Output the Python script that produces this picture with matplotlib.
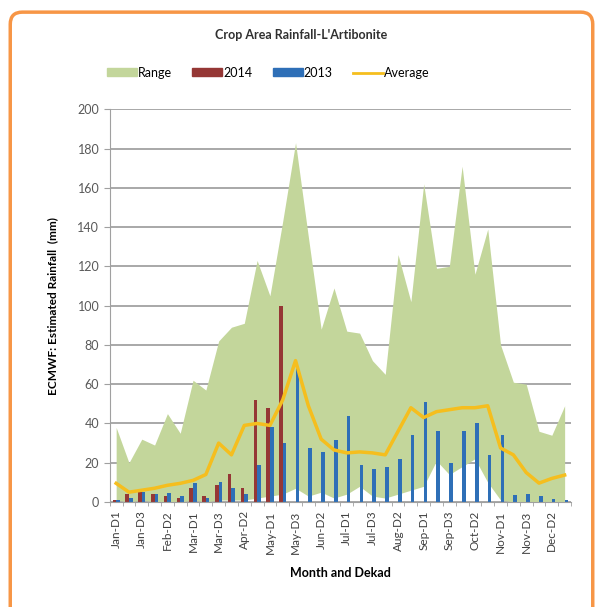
import matplotlib.pyplot as plt
import numpy as np
from matplotlib.patches import FancyBboxPatch, Patch
from matplotlib.lines import Line2D

plt.rcParams['font.family'] = ['Lato', 'DejaVu Sans']

months = ['Jan', 'Feb', 'Mar', 'Apr', 'May', 'Jun', 'Jul', 'Aug', 'Sep', 'Oct', 'Nov', 'Dec']
dekads = [m + '-D' + str(d) for m in months for d in (1, 2, 3)]

range_max = [38, 20, 32, 29, 45, 35, 62, 57, 82, 89, 91, 123, 105, 143, 183, 135, 88, 109,
             87, 86, 72, 65, 126, 102, 162, 119, 120, 171, 116, 139, 80, 61, 60, 36, 34, 49]
range_min = [1, 0, 1, 0, 0, 0, 1, 0, 1, 1, 1, 2, 3, 4, 7, 3, 5, 2,
             4, 8, 3, 2, 4, 6, 8, 21, 14, 18, 22, 10, 1, 0, 0, 0, 0, 0]
rain_2014 = [1, 4, 5, 4, 3, 2, 7, 3, 8.5, 14, 7, 52, 48, 100, 0, 0, 0, 0,
             0, 0, 0, 0, 0, 0, 0, 0, 0, 0, 0, 0, 0, 0, 0, 0, 0, 0]
rain_2013 = [1, 2, 5, 4, 4.5, 3, 9.5, 2, 10, 7, 4, 19, 38, 30, 68, 27.5, 25.5, 31.5,
             44, 19, 17, 18, 22, 34, 51, 36, 20, 36, 40, 24, 34, 3.5, 4, 3, 1.5, 1]
average = [9.5, 5, 6, 7, 8.5, 9.5, 11, 14, 30, 24, 39, 40, 39, 52, 72, 49, 32, 26.5,
           25, 25.5, 25, 24, 36, 48, 43, 46, 47, 48, 48, 49, 27.5, 24, 15, 9.6, 12, 13.7]

x = np.arange(len(dekads))

fig = plt.figure(figsize=(6.03, 6.07), dpi=100)
fig.patches.append(FancyBboxPatch((0.017, -0.05), 0.966, 1.03,
                                  boxstyle='round,pad=0,rounding_size=0.02',
                                  transform=fig.transFigure, facecolor='white',
                                  edgecolor='#F79646', linewidth=2.5, zorder=-1))

ax = fig.add_axes([0.182, 0.173, 0.765, 0.647])
ax.fill_between(x, range_min, range_max, color='#C3D69B', linewidth=0, zorder=1)
w = 0.28
ax.bar(x - w / 2, rain_2014, width=w, color='#953735', zorder=2)
ax.bar(x + w / 2, rain_2013, width=w, color='#2E6FB7', zorder=2)
ax.plot(x, average, color='#F5BE1E', linewidth=2.5, zorder=3)

ax.set_xlim(-0.5, len(dekads) - 0.5)
ax.set_ylim(0, 200)
ax.set_yticks(range(0, 201, 20))
ax.yaxis.grid(True, color='#9A9A9A', linewidth=1.2, zorder=0)
ax.set_axisbelow(True)

ax.set_xticks(x[::2])
ax.set_xticklabels(dekads[::2], rotation=90, fontsize=8.5, color='#404040')
ax.set_xticks(np.arange(-0.5, len(dekads), 1), minor=True)
ax.tick_params(axis='x', which='major', length=0, pad=6)
ax.tick_params(axis='x', which='minor', length=3, color='#A0A0A0')
ax.tick_params(axis='y', length=4, color='#A0A0A0', labelsize=9, labelcolor='#595959')

for s in ['top', 'right']:
    ax.spines[s].set_visible(False)
ax.spines['left'].set_color('#A0A0A0')
ax.spines['bottom'].set_color('#A0A0A0')

ax.set_ylabel('ECMWF: Estimated Rainfall  (mm)', fontsize=8.5, fontweight='bold', labelpad=14)
ax.set_xlabel('Month and Dekad', fontsize=9, fontweight='bold', labelpad=10)

fig.text(0.5, 0.943, "Crop Area Rainfall-L'Artibonite", ha='center', va='center',
         fontsize=9, fontweight='bold', color='#303030')

handles = [Patch(color='#C3D69B', label='Range'),
           Patch(color='#953735', label='2014'),
           Patch(color='#2E6FB7', label='2013'),
           Line2D([0], [0], color='#F5BE1E', linewidth=2, label='Average')]
fig.legend(handles=handles, loc='center', bbox_to_anchor=(0.445, 0.88), ncol=4,
           frameon=False, fontsize=9, handlelength=2.4, handleheight=0.6,
           handletextpad=0.1, columnspacing=1.6)

fig.savefig('out.png', dpi=100)
